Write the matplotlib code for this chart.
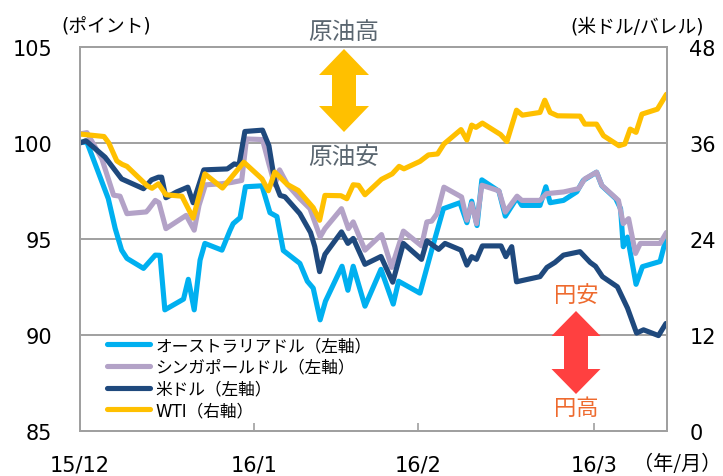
import matplotlib
matplotlib.use('Agg')
import matplotlib.pyplot as plt
from matplotlib.patches import Polygon

plt.rcParams['font.family'] = ['DejaVu Sans', 'Noto Sans CJK JP']

# x axis: days-ish units, 15/12 start = 0
month_pos = [0, 32.6, 63.3, 96.3]
month_labels = ['15/12', '16/1', '16/2', '16/3']

aud_x = [0, 1.3, 5.3, 6.6, 7.8, 8.8, 11.9, 14.1, 15.0, 15.9, 19.4, 20.3, 21.4, 22.5,
         23.4, 26.6, 28.1, 28.7, 30.0, 31.0, 34.1, 35.6, 36.9, 38.1, 41.2, 42.6, 43.7,
         45.0, 46.0, 49.1, 50.2, 51.2, 53.4, 56.4, 58.7, 59.7, 63.7, 65.9, 68.1, 71.2,
         72.5, 73.4, 74.4, 75.3, 78.5, 79.7, 81.9, 82.8, 86.2, 87.3, 88.1, 90.6, 93.1,
         94.3, 96.8, 97.8, 100.4, 101.3, 101.8, 102.6, 104.2, 105.4, 108.7, 109.9]
aud = [100.04, 100.04, 97.10, 95.54, 94.42, 93.99, 93.47, 94.16, 94.15, 91.31, 91.87,
       92.90, 91.31, 93.90, 94.77, 94.42, 95.44, 95.80, 96.11, 97.72, 97.77, 96.37, 96.17,
       94.40, 93.73, 92.80, 92.44, 90.79, 91.76, 93.58, 92.33, 93.58, 91.50, 93.42, 91.61,
       92.80, 92.18, 94.42, 96.58, 96.89, 95.85, 96.97, 95.70, 98.08, 97.49, 96.19, 97.15,
       96.75, 96.75, 97.72, 96.89, 97.01, 97.46, 98.05, 98.48, 97.77, 97.10, 96.58, 94.60,
       95.10, 92.64, 93.56, 93.83, 95.10]

sgd_x = [0, 1.3, 4.1, 6.3, 7.5, 8.8, 12.4, 12.8, 14.1, 14.8, 16.1, 19.9, 21.4, 22.3,
         23.5, 26.6, 28.5, 30.3, 31.2, 34.2, 35.4, 36.5, 37.4, 38.9, 41.2, 43.1, 45.0,
         45.9, 49.0, 50.3, 51.2, 53.4, 56.5, 58.4, 60.6, 64.0, 65.0, 65.9, 66.9, 68.2,
         71.5, 72.5, 73.4, 74.3, 75.3, 78.5, 79.7, 81.9, 82.8, 86.2, 87.4, 90.6, 93.4,
         94.6, 96.8, 97.8, 100.9, 101.8, 102.8, 104.1, 105.0, 108.7, 109.9]
sgd = [100.47, 100.54, 99.17, 97.28, 97.23, 96.32, 96.41, 96.53, 97.01, 96.89, 95.54,
       96.23, 95.46, 96.75, 97.82, 97.88, 97.95, 98.05, 100.21, 100.18, 98.91, 97.82, 98.60,
       97.82, 97.10, 96.58, 95.11, 95.54, 96.58, 95.54, 95.89, 94.42, 95.23, 93.52, 95.41,
       94.64, 95.89, 95.93, 96.32, 97.70, 97.19, 95.98, 96.84, 95.80, 97.80, 97.51, 96.40,
       97.23, 97.01, 97.01, 97.36, 97.45, 97.62, 98.13, 98.48, 97.79, 97.01, 95.80, 96.06,
       94.25, 94.77, 94.77, 95.34]

usd_x = [0, 1.1, 4.7, 7.8, 11.9, 13.4, 14.7, 15.3, 16.1, 18.1, 20.2, 21.2, 23.2, 27.6,
         28.9, 29.8, 30.9, 34.2, 35.4, 36.5, 37.5, 38.4, 41.2, 43.2, 44.0, 44.9, 45.9,
         49.0, 50.2, 51.2, 53.4, 56.4, 58.6, 60.6, 64.0, 65.0, 67.2, 68.4, 71.4, 72.5,
         73.4, 74.3, 75.4, 78.9, 79.8, 80.9, 81.8, 83.4, 86.2, 87.5, 89.0, 90.6, 93.7,
         95.6, 96.6, 97.9, 100.7, 102.6, 104.3, 105.6, 108.4, 109.8]
usd = [100.0, 100.12, 99.26, 98.13, 97.62, 98.08, 98.22, 98.22, 97.15, 97.45, 97.70,
       96.89, 98.60, 98.65, 98.91, 98.86, 100.60, 100.67, 99.86, 97.98, 97.27, 97.20,
       96.32, 95.34, 94.60, 93.30, 94.20, 95.37, 94.77, 95.03, 93.68, 94.09, 92.75, 94.77,
       93.94, 94.90, 94.46, 94.77, 94.42, 93.64, 94.08, 93.94, 94.64, 94.64, 94.08, 94.60,
       92.77, 92.87, 93.04, 93.52, 93.78, 94.16, 94.34, 93.78, 93.58, 93.04, 92.51, 91.40,
       90.10, 90.27, 89.97, 90.60]

wti_x = [0, 4.5, 5.4, 6.9, 7.9, 8.8, 12.6, 13.5, 14.7, 16.1, 19.1, 21.2, 23.4, 26.7,
         30.7, 34.1, 35.3, 36.5, 38.8, 40.9, 43.7, 44.9, 45.9, 48.9, 50.0, 51.2, 52.2,
         53.4, 56.5, 58.5, 59.8, 60.7, 63.7, 65.3, 67.0, 68.2, 71.4, 72.5, 73.4, 74.2,
         75.4, 78.8, 80.0, 81.8, 82.9, 86.2, 87.1, 88.1, 89.5, 93.7, 94.6, 96.8, 98.1,
         101.0, 102.1, 103.1, 104.2, 105.3, 108.2, 109.9]
wti = [37.12, 36.81, 36.0, 33.76, 33.33, 33.08, 30.65, 30.34, 30.90, 29.53, 29.35, 26.61,
       32.14, 30.37, 33.60, 31.52, 30.03, 32.36, 30.84, 30.07, 27.92, 26.34, 29.45, 29.41,
       29.03, 30.78, 30.71, 29.53, 31.46, 32.14, 33.08, 32.77, 33.70, 34.51, 34.63, 35.88,
       37.68, 36.37, 38.24, 37.95, 38.49, 37.06, 36.19, 40.10, 39.48, 39.82, 41.35, 39.82,
       39.40, 39.36, 38.36, 38.36, 36.91, 35.66, 35.88, 37.74, 37.33, 39.61, 40.23, 42.09]

W, H = 723, 477
fig = plt.figure(figsize=(W / 100, H / 100), dpi=100)
ax = fig.add_axes([80 / W, 1 - 432 / H, 587 / W, 384 / H])
ax2 = ax.twinx()

kw = dict(lw=3.7, solid_joinstyle='round', solid_capstyle='round')
l1, = ax.plot(aud_x, aud, color='#00B0F0', label='オーストラリアドル（左軸）', **kw)
l2, = ax.plot(sgd_x, sgd, color='#B3A2C7', label='シンガポールドル（左軸）', **kw)
l3, = ax.plot(usd_x, usd, color='#1F497D', label='米ドル（左軸）', **kw)
l4, = ax2.plot(wti_x, wti, color='#FFC000', label='WTI（右軸）', **kw)

ax.set_xlim(0, 110)
ax.set_ylim(85, 105)
ax2.set_ylim(0, 48)
ax.set_yticks([85, 90, 95, 100, 105])
ax2.set_yticks([0, 12, 24, 36, 48])
ax.set_xticks(month_pos)
ax.set_xticklabels(month_labels)

ax.grid(axis='y', color='#a0a0a0', lw=1.4)
ax.set_axisbelow(True)
for a in (ax, ax2):
    for s in a.spines.values():
        s.set_color('#a0a0a0')
        s.set_linewidth(1.4)
ax.tick_params(axis='y', length=0, pad=20, labelsize=15)
ax2.tick_params(axis='y', length=0, pad=16, labelsize=15)
ax.tick_params(axis='x', direction='in', length=6, width=1.2, color='#a0a0a0',
               pad=17, labelsize=15)

def fx(px):
    return px / W

def fy(py):
    return 1 - py / H

def double_arrow(xc, yt, yb, hw, sw, hl, color):
    pts = [(xc, yt), (xc + hw, yt + hl), (xc + sw, yt + hl), (xc + sw, yb - hl),
           (xc + hw, yb - hl), (xc, yb), (xc - hw, yb - hl), (xc - sw, yb - hl),
           (xc - sw, yt + hl), (xc - hw, yt + hl)]
    fig.patches.append(Polygon([(fx(x), fy(y)) for x, y in pts], closed=True,
                               transform=fig.transFigure, color=color, lw=0,
                               zorder=5))

double_arrow(344, 50, 133, 25, 12, 26, '#FFC000')
double_arrow(576, 312, 395, 24.5, 12, 25, '#FF4040')

gray = '#5A6670'
orange = '#EE6A2E'
fig.text(fx(344), fy(32), '原油高', color=gray, fontsize=17, ha='center', va='center')
fig.text(fx(344), fy(157), '原油安', color=gray, fontsize=17, ha='center', va='center')
fig.text(fx(576), fy(296), '円安', color=orange, fontsize=16, ha='center', va='center')
fig.text(fx(576), fy(409), '円高', color=orange, fontsize=16, ha='center', va='center')

fig.text(fx(106), fy(27), '(ポイント)', fontsize=13.5, ha='center', va='center')
fig.text(fx(637), fy(27), '(米ドル/バレル)', fontsize=13.5, ha='center', va='center')
fig.text(fx(677), fy(465), '（年/月）', fontsize=14.5, ha='center', va='center',
         family=['Noto Sans CJK JP', 'DejaVu Sans'])

leg = ax2.legend(handles=[l1, l2, l3, l4], loc='upper left',
                 bbox_to_anchor=(fx(107), fy(337)), bbox_transform=fig.transFigure,
                 frameon=False, fontsize=12, handlelength=2.6, handletextpad=0.3,
                 labelspacing=0.22, borderpad=0, borderaxespad=0)

fig.savefig('out.png', dpi=100, facecolor='white')
